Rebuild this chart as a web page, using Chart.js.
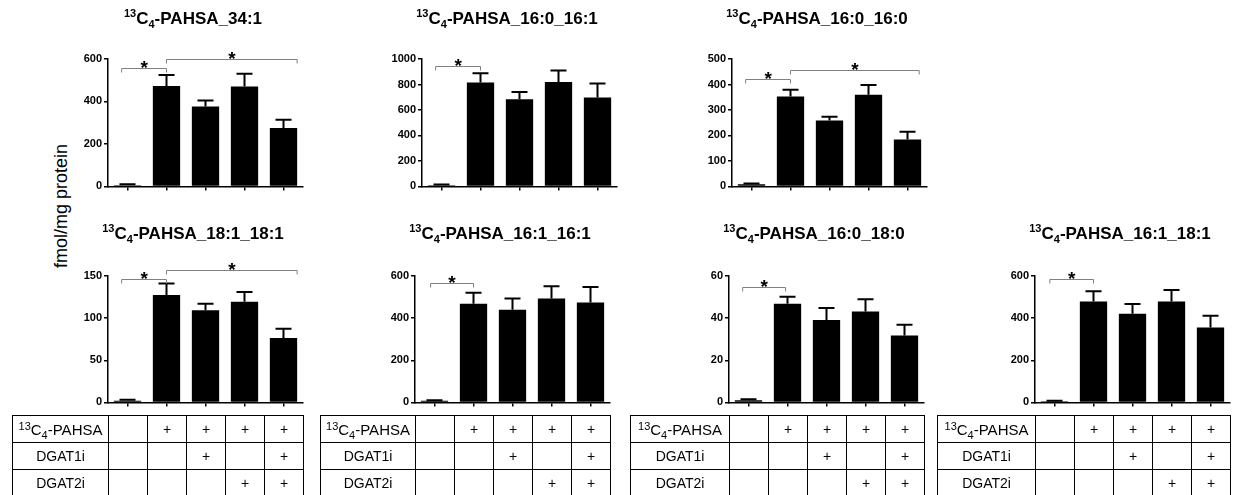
<!DOCTYPE html>
<html>
<head>
<meta charset="utf-8">
<script src="https://cdn.jsdelivr.net/npm/chart.js@4.4.1/dist/chart.umd.min.js"></script>
<style>
    html, body { margin: 0; padding: 0; background: #fff; }
    body { width: 1233px; height: 495px; position: relative; overflow: hidden; font-family: Arial, "Liberation Sans", sans-serif; color: #000; }
    .panel { position: absolute; }
    .ylabel { position: absolute; left: 61px; top: 206px; font-size: 18px; transform: translate(-50%, -50%) rotate(-90deg); white-space: nowrap; }
    table.cond { position: absolute; border-collapse: collapse; table-layout: fixed; font-size: 14px; opacity: 0.995; will-change: transform; }
    table.cond td { border: 1px solid #000; height: 26px; padding: 0; text-align: center; vertical-align: middle; line-height: 1; white-space: nowrap; }
    table.cond td.lead0 { font-size: 15px; }
    .sm { font-size: 11px; position: relative; }
    .up { top: -5px; }
    .dn { top: 4px; }
</style>
</head>
<body>
<div class="ylabel">fmol/mg protein</div>

<script>
// Группы (5 столбцов в каждой панели)
const groups = ['Vehicle', '13C4-PAHSA', '13C4-PAHSA + DGAT1i', '13C4-PAHSA + DGAT2i', '13C4-PAHSA + DGAT1i + DGAT2i'];

// Средние значения и SEM, fmol/mg protein
const mean_34_1 = [6, 473, 376, 470, 275];
const sem_34_1 = [4, 52, 29, 60, 39];
const mean_16_0_16_1 = [10, 815, 685, 820, 698];
const sem_16_0_16_1 = [4, 73, 55, 89, 109];
const mean_16_0_16_0 = [8, 353, 259, 360, 184];
const sem_16_0_16_0 = [3, 26, 14, 38, 30];
const mean_18_1_18_1 = [2, 127.5, 109.5, 119.5, 76.5];
const sem_18_1_18_1 = [1, 13.5, 7.5, 11.5, 11];
const mean_16_1_16_1 = [8, 468, 440, 493, 474];
const sem_16_1_16_1 = [2, 53, 53, 58, 74];
const mean_16_0_18_0 = [1, 46.8, 39.1, 43.2, 31.7];
const sem_16_0_18_0 = [0.5, 3.4, 5.7, 5.8, 5.2];
const mean_16_1_18_1 = [6, 479, 421, 479, 356];
const sem_16_1_18_1 = [2, 49, 46, 55, 55];

// Шкалы Y
const yMax = [600, 1000, 500, 150, 600, 60, 600];
const yStep = [200, 200, 100, 50, 200, 20, 200];

// Скобки значимости: [от группы, до группы, уровень]
const sig_34_1 = [[-0.15, 1, 558], [1, 4.35, 600]];
const sig_16_0_16_1 = [[-0.15, 1, 948]];
const sig_16_0_16_0 = [[-0.15, 1, 422], [1, 4.3, 456]];
const sig_18_1_18_1 = [[-0.15, 1, 146.5], [1, 4.35, 157]];
const sig_16_1_16_1 = [[-0.1, 1, 569]];
const sig_16_0_18_0 = [[-0.15, 0.95, 55]];
const sig_16_1_18_1 = [[-0.12, 1, 585]];

// Таблица условий
const condLabels = ['PAHSA', 'DGAT1i', 'DGAT2i'];
const condPahsa = ['', '+', '+', '+', '+'];
const condDgat1 = ['', '', '+', '', '+'];
const condDgat2 = ['', '', '', '+', '+'];

const panels = [
    { name: '34:1', mean: mean_34_1, sem: sem_34_1, sig: sig_34_1 },
    { name: '16:0_16:1', mean: mean_16_0_16_1, sem: sem_16_0_16_1, sig: sig_16_0_16_1 },
    { name: '16:0_16:0', mean: mean_16_0_16_0, sem: sem_16_0_16_0, sig: sig_16_0_16_0 },
    { name: '18:1_18:1', mean: mean_18_1_18_1, sem: sem_18_1_18_1, sig: sig_18_1_18_1 },
    { name: '16:1_16:1', mean: mean_16_1_16_1, sem: sem_16_1_16_1, sig: sig_16_1_16_1 },
    { name: '16:0_18:0', mean: mean_16_0_18_0, sem: sem_16_0_18_0, sig: sig_16_0_18_0 },
    { name: '16:1_18:1', mean: mean_16_1_18_1, sem: sem_16_1_18_1, sig: sig_16_1_18_1 }
];

// Расположение панелей
const rows = [
    { top: 0, plotTop: 59, plotBottom: 187 },
    { top: 215, plotTop: 276, plotBottom: 403 }
];
const plotLefts = [108, 422, 732, 108, 415, 729, 1035];
const panelRow = [0, 0, 0, 1, 1, 1, 1];
const AXIS_W = 34, PLOT_W = 195, RIGHT_PAD = 9;
const FONT = 'Arial, "Liberation Sans", sans-serif';

// Заголовок с индексами 13C4
const richTitle = {
    id: 'richTitle',
    afterDraw(chart, args, opts) {
        const ctx = chart.ctx;
        const parts = [
            { t: '13', f: 'bold 11px ' + FONT, dy: -7 },
            { t: 'C', f: 'bold 17px ' + FONT, dy: 0 },
            { t: '4', f: 'bold 11px ' + FONT, dy: 4 },
            { t: '-PAHSA_' + opts.name, f: 'bold 17px ' + FONT, dy: 0 }
        ];
        ctx.save();
        let total = 0;
        parts.forEach(p => { ctx.font = p.f; p.w = ctx.measureText(p.t).width; total += p.w; });
        let x = chart.width / 2 - total / 2;
        ctx.fillStyle = '#000';
        ctx.textBaseline = 'alphabetic';
        parts.forEach(p => { ctx.font = p.f; ctx.fillText(p.t, x, 24 + p.dy); x += p.w; });
        ctx.restore();
    }
};

// Планки погрешностей (только вверх)
const errorBars = {
    id: 'errorBars',
    afterDatasetsDraw(chart, args, opts) {
        const ctx = chart.ctx;
        const yScale = chart.scales.y;
        const meta = chart.getDatasetMeta(0);
        ctx.save();
        ctx.strokeStyle = '#000';
        ctx.lineWidth = 2;
        meta.data.forEach((bar, i) => {
            const top = yScale.getPixelForValue(opts.mean[i] + opts.sem[i]);
            ctx.beginPath();
            ctx.moveTo(bar.x, bar.y);
            ctx.lineTo(bar.x, top);
            ctx.moveTo(bar.x - 8, top);
            ctx.lineTo(bar.x + 8, top);
            ctx.stroke();
        });
        ctx.restore();
    }
};

// Скобки со звёздочками
const sigBrackets = {
    id: 'sigBrackets',
    afterDraw(chart, args, opts) {
        const ctx = chart.ctx;
        const xs = chart.scales.x, ys = chart.scales.y;
        ctx.save();
        opts.list.forEach(([a, b, v]) => {
            const xa = xs.getPixelForValue(a), xb = xs.getPixelForValue(b);
            const y = Math.round(ys.getPixelForValue(v)) + 0.5;
            ctx.strokeStyle = '#808080';
            ctx.lineWidth = 1;
            ctx.beginPath();
            ctx.moveTo(xa, y + 4);
            ctx.lineTo(xa, y);
            ctx.lineTo(xb, y);
            ctx.lineTo(xb, y + 4);
            ctx.stroke();
            ctx.fillStyle = '#000';
            ctx.font = 'bold 19px ' + FONT;
            ctx.textAlign = 'center';
            ctx.textBaseline = 'alphabetic';
            ctx.fillText('*', (xa + xb) / 2, y + 5);
        });
        ctx.restore();
    }
};

function makePanel(idx) {
    const p = panels[idx];
    const row = rows[panelRow[idx]];
    const left = plotLefts[idx] - AXIS_W;
    const width = AXIS_W + PLOT_W + RIGHT_PAD;
    const height = row.plotBottom - row.top + 8;

    const canvas = document.createElement('canvas');
    canvas.className = 'panel';
    canvas.width = width;
    canvas.height = height;
    canvas.style.left = left + 'px';
    canvas.style.top = row.top + 'px';
    canvas.style.width = width + 'px';
    canvas.style.height = height + 'px';
    document.body.appendChild(canvas);

    new Chart(canvas.getContext('2d'), {
        type: 'bar',
        data: {
            labels: groups,
            datasets: [{
                data: p.mean,
                backgroundColor: '#000',
                borderWidth: 0,
                categoryPercentage: 0.7,
                barPercentage: 1.0
            }]
        },
        options: {
            responsive: false,
            animation: false,
            events: [],
            layout: { padding: { top: row.plotTop - row.top, left: 0, right: RIGHT_PAD, bottom: 0 } },
            scales: {
                x: {
                    ticks: { display: false },
                    grid: { drawOnChartArea: false, drawTicks: true, tickLength: 4, color: '#000', lineWidth: 1.5, offset: false },
                    border: { display: true, color: '#000', width: 1.5 },
                    afterFit(s) { s.height = 8; }
                },
                y: {
                    min: 0,
                    max: yMax[idx],
                    ticks: {
                        stepSize: yStep[idx],
                        color: '#000',
                        padding: 2,
                        font: { family: FONT, size: 11, weight: 'bold' },
                        callback: v => String(v)
                    },
                    grid: { drawOnChartArea: false, drawTicks: true, tickLength: 4, color: '#000', lineWidth: 1.5 },
                    border: { display: true, color: '#000', width: 1.5 },
                    afterFit(s) { s.width = AXIS_W; }
                }
            },
            plugins: {
                legend: { display: false },
                tooltip: { enabled: false },
                richTitle: { name: p.name },
                errorBars: { mean: p.mean, sem: p.sem },
                sigBrackets: { list: p.sig }
            }
        },
        plugins: [richTitle, errorBars, sigBrackets]
    });
}

// Таблица под нижним рядом
const tableLefts = [12, 320, 630, 937];
const tablePanels = [3, 4, 5, 6];
const TABLE_TOP = 415;

function makeTable(k) {
    const plotLeft = plotLefts[tablePanels[k]];
    const firstCol = plotLeft - tableLefts[k];
    const colW = PLOT_W / groups.length;
    const table = document.createElement('table');
    table.className = 'cond';
    table.style.left = tableLefts[k] + 'px';
    table.style.top = TABLE_TOP + 'px';
    table.style.width = (firstCol + PLOT_W) + 'px';

    const cg = document.createElement('colgroup');
    [firstCol].concat(groups.map(() => colW)).forEach(w => {
        const c = document.createElement('col');
        c.style.width = w + 'px';
        cg.appendChild(c);
    });
    table.appendChild(cg);

    const marks = [condPahsa, condDgat1, condDgat2];
    condLabels.forEach((lab, r) => {
        const tr = document.createElement('tr');
        const th = document.createElement('td');
        if (r === 0) {
            th.className = 'lead0';
            th.innerHTML = '<span class="sm up">13</span>C<span class="sm dn">4</span>-' + lab;
        } else {
            th.textContent = lab;
        }
        tr.appendChild(th);
        marks[r].forEach(m => {
            const td = document.createElement('td');
            td.textContent = m;
            tr.appendChild(td);
        });
        table.appendChild(tr);
    });
    document.body.appendChild(table);
}

panels.forEach((p, i) => makePanel(i));
tableLefts.forEach((l, k) => makeTable(k));
</script>
</body>
</html>
